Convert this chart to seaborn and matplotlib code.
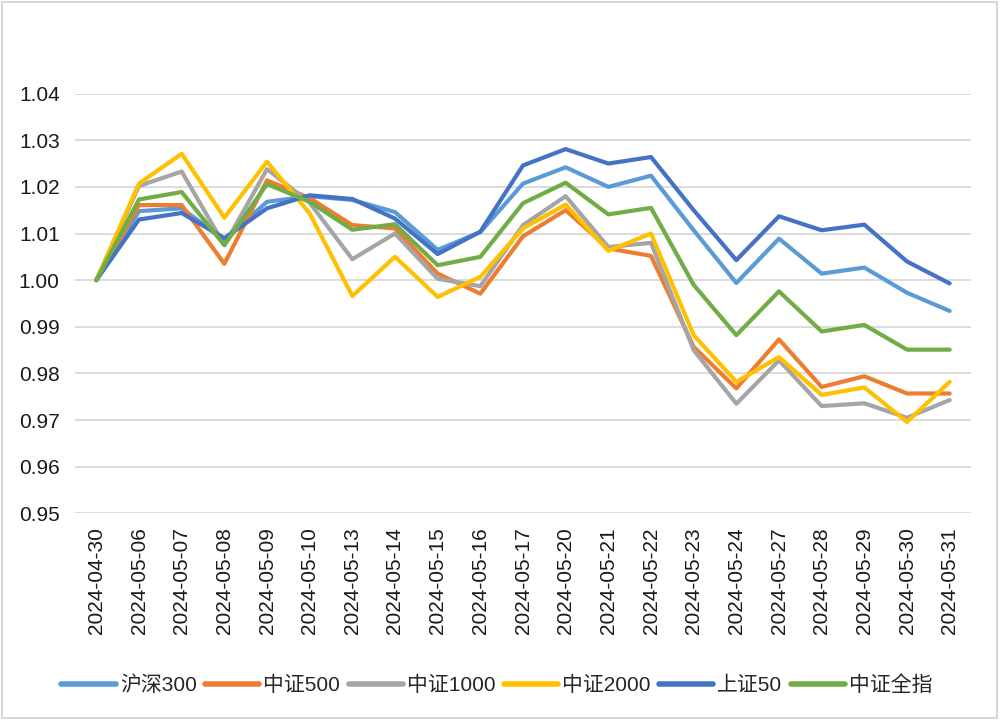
import pandas as pd
import seaborn as sns
import matplotlib.pyplot as plt
from matplotlib.patches import Rectangle

dates = ['2024-04-30', '2024-05-06', '2024-05-07', '2024-05-08', '2024-05-09', '2024-05-10',
         '2024-05-13', '2024-05-14', '2024-05-15', '2024-05-16', '2024-05-17', '2024-05-20',
         '2024-05-21', '2024-05-22', '2024-05-23', '2024-05-24', '2024-05-27', '2024-05-28',
         '2024-05-29', '2024-05-30', '2024-05-31']

hs300 = [1.0000, 1.0148, 1.0154, 1.0086, 1.0168, 1.0180, 1.0172, 1.0146, 1.0065, 1.0103, 1.0207,
         1.0242, 1.0200, 1.0224, 1.0107, 0.9994, 1.0089, 1.0014, 1.0027, 0.9973, 0.9934]
zz500 = [1.0000, 1.0161, 1.0161, 1.0035, 1.0214, 1.0176, 1.0118, 1.0111, 1.0014, 0.9971, 1.0094,
         1.0150, 1.0068, 1.0052, 0.9857, 0.9768, 0.9873, 0.9771, 0.9794, 0.9757, 0.9757]
zz1000 = [1.0000, 1.0202, 1.0233, 1.0075, 1.0238, 1.0166, 1.0045, 1.0100, 1.0003, 0.9987, 1.0118,
          1.0180, 1.0071, 1.0080, 0.9850, 0.9735, 0.9828, 0.9730, 0.9736, 0.9705, 0.9743]
zz2000 = [1.0000, 1.0207, 1.0271, 1.0134, 1.0254, 1.0143, 0.9966, 1.0050, 0.9964, 1.0007, 1.0111,
          1.0162, 1.0063, 1.0100, 0.9882, 0.9782, 0.9835, 0.9754, 0.9770, 0.9696, 0.9782]
sz50 = [1.0000, 1.0130, 1.0144, 1.0090, 1.0154, 1.0182, 1.0174, 1.0132, 1.0056, 1.0104, 1.0246,
        1.0281, 1.0250, 1.0264, 1.0150, 1.0043, 1.0137, 1.0107, 1.0119, 1.0040, 0.9993]
zzqz = [1.0000, 1.0173, 1.0189, 1.0075, 1.0206, 1.0168, 1.0108, 1.0120, 1.0032, 1.0050, 1.0165,
        1.0209, 1.0141, 1.0155, 0.9990, 0.9882, 0.9976, 0.9890, 0.9904, 0.9851, 0.9851]

names = ['沪深300', '中证500', '中证1000', '中证2000', '上证50', '中证全指']
series = [hs300, zz500, zz1000, zz2000, sz50, zzqz]
colors = ['#5B9BD5', '#ED7D31', '#A5A5A5', '#FFC000', '#4472C4', '#70AD47']

rows = []
for name, vals in zip(names, series):
    for i, v in enumerate(vals):
        rows.append({'idx': i, 'value': v, 'index': name})
df = pd.DataFrame(rows)

sns.set_theme(style='white')
plt.rcParams['font.family'] = ['Liberation Sans', 'Noto Sans CJK SC', 'DejaVu Sans']

fig = plt.figure(figsize=(10, 7.2), dpi=100)
ax = fig.add_axes([0.075, 0.287, 0.896, 0.583])

sns.lineplot(data=df, x='idx', y='value', hue='index', hue_order=names,
             palette=colors, linewidth=3, ax=ax)

ax.set_xlim(-0.5, len(dates) - 0.5)
ax.set_ylim(0.95, 1.04)
ax.set_yticks([0.95 + 0.01 * k for k in range(10)])
ax.set_yticklabels([f'{0.95 + 0.01 * k:.2f}' for k in range(10)], fontsize=15, color='#1a1a1a')
ax.set_xticks(range(len(dates)))
ax.set_xticklabels(dates, rotation=90, fontsize=15, color='#1a1a1a')
ax.tick_params(axis='x', length=0, pad=10)
ax.tick_params(axis='y', length=0, pad=11)
ax.grid(axis='y', color='#d9d9d9', linewidth=1.3)
ax.set_axisbelow(True)
for s in ax.spines.values():
    s.set_visible(False)
ax.set_xlabel('')
ax.set_ylabel('')

# legend row along the bottom of the chart
handles, labels = ax.get_legend_handles_labels()
for h in handles:
    h.set_linewidth(4)
ax.legend(handles, labels, loc='center', bbox_to_anchor=(0.497, 1 - 685 / 720),
          bbox_transform=fig.transFigure, ncol=6, frameon=False, fontsize=15,
          handlelength=2.6, handletextpad=0.2, columnspacing=0.4)

fig.patches.append(Rectangle((0.002, 0.003), 0.995, 0.994, transform=fig.transFigure,
                             fill=False, edgecolor='#d0d0d0', linewidth=1.2))

fig.savefig('out.png', dpi=100)
